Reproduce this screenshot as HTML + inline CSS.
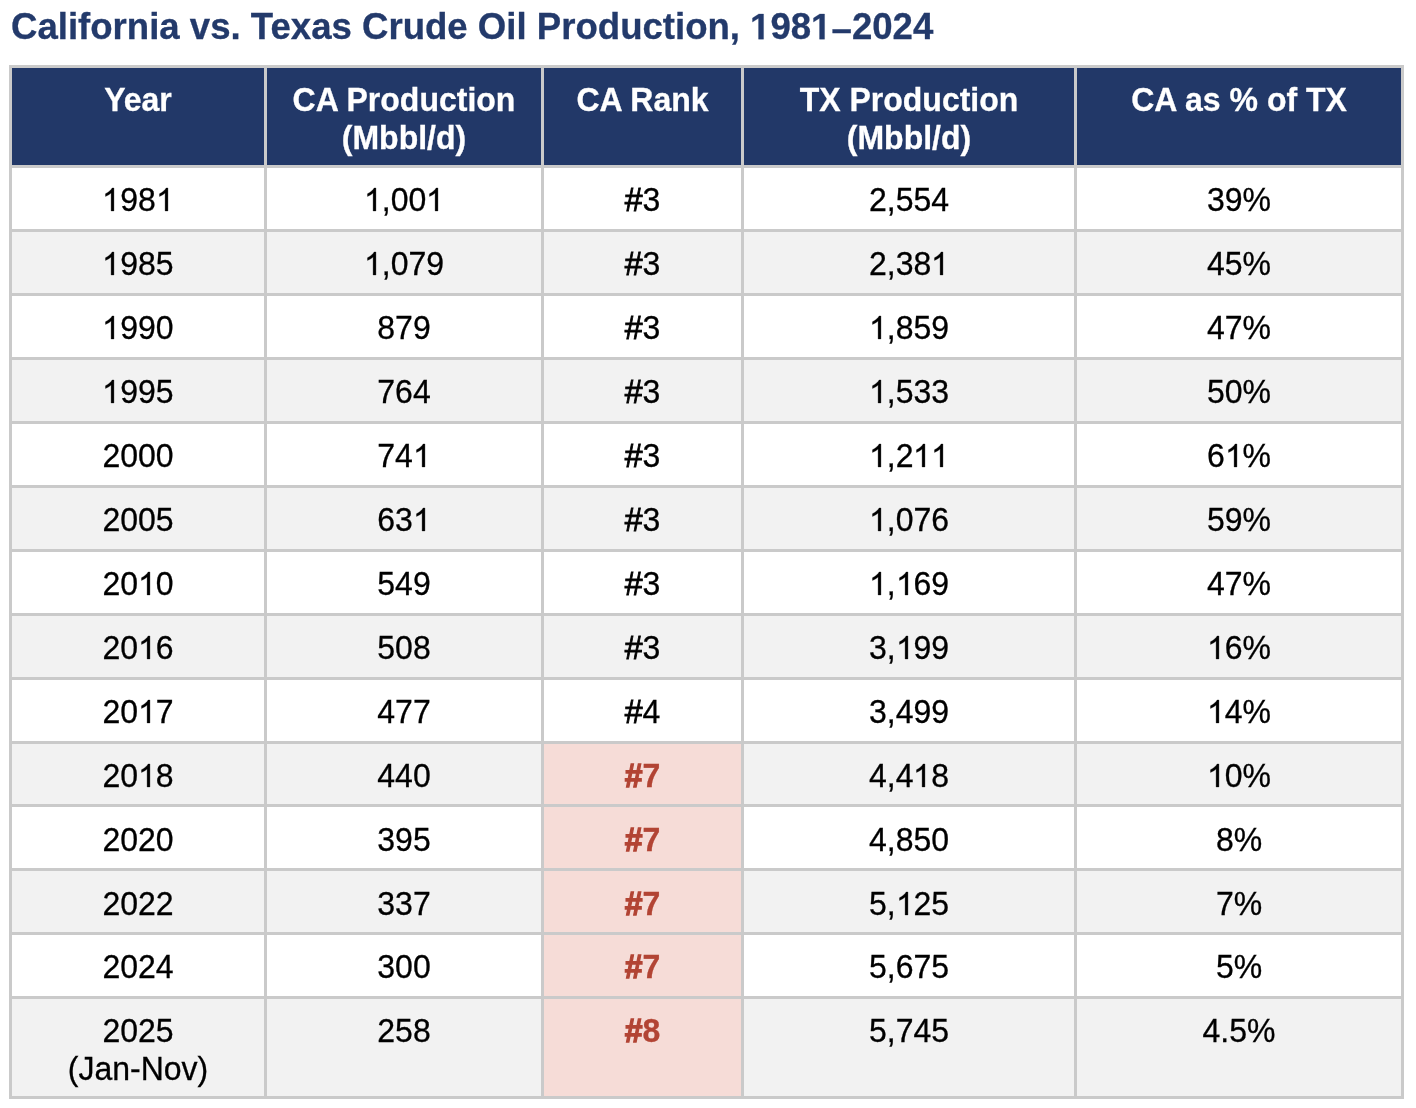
<!DOCTYPE html>
<html><head><meta charset="utf-8">
<style>
html,body{margin:0;padding:0;background:#fff;}
body{width:1416px;height:1108px;position:relative;overflow:hidden;font-family:"Liberation Sans",sans-serif;}
.title{position:absolute;left:10.5px;top:4.7px;font-size:36.6px;font-weight:bold;color:#233a6b;white-space:nowrap;line-height:43px;}
.grid{position:absolute;left:9px;top:65px;width:1395px;height:1034px;background:#cacaca;}
.th,.td{position:absolute;box-sizing:border-box;text-align:center;font-size:32px;line-height:35.5px;padding-top:14.6px;}
.th{background:#223868;color:#fff;font-weight:bold;}
.td{background:#fff;color:#000;}
.t{display:block;will-change:transform;-webkit-text-stroke:0.3px currentColor;transform:scaleY(1.045);transform-origin:50% 28.8px;}
.td.alt{background:#f2f2f2;}
.one{width:.5562em;height:.688em;vertical-align:baseline;fill:currentColor;stroke:currentColor;overflow:visible;}
.title .t{transform:none;}
.hs{-webkit-text-stroke:0.85px currentColor;}
.hl .hs{-webkit-text-stroke:1.2px currentColor;}
.td.hl{background:#f6dcd7;color:#b24434;font-weight:bold;}
</style></head><body>
<div class="title"><span class="t">California vs. Texas Crude Oil Production, <svg class="one" viewBox="0 0 1139 1409"><path transform="matrix(1 0 0 -1 0 1409)" d="M478 0V1170L140 959V1180L493 1409H759V0Z" stroke-width="17"/></svg>98<svg class="one" viewBox="0 0 1139 1409"><path transform="matrix(1 0 0 -1 0 1409)" d="M478 0V1170L140 959V1180L493 1409H759V0Z" stroke-width="17"/></svg><span style="position:relative;top:1.5px">–</span>2024</span></div>
<div class="grid"></div>

<div class="th" style="left:12px;top:68px;width:252px;height:97px"><span class="t">Year</span></div>
<div class="th" style="left:267px;top:68px;width:274px;height:97px"><span class="t">CA Production<br>(Mbbl/d)</span></div>
<div class="th" style="left:544px;top:68px;width:197px;height:97px"><span class="t">CA Rank</span></div>
<div class="th" style="left:744px;top:68px;width:330px;height:97px"><span class="t">TX Production<br>(Mbbl/d)</span></div>
<div class="th" style="left:1077px;top:68px;width:324px;height:97px"><span class="t">CA as % of TX</span></div>
<div class="td" style="left:12px;top:168px;width:252px;height:61px"><span class="t"><svg class="one" viewBox="0 0 1139 1409"><path transform="matrix(1 0 0 -1 0 1409)" d="M763 0H583V1098Q518 1038 412.5 979T223 890V1057Q374 1125 487 1221T647 1409H763Z" stroke-width="19"/></svg>98<svg class="one" viewBox="0 0 1139 1409"><path transform="matrix(1 0 0 -1 0 1409)" d="M763 0H583V1098Q518 1038 412.5 979T223 890V1057Q374 1125 487 1221T647 1409H763Z" stroke-width="19"/></svg></span></div>
<div class="td" style="left:267px;top:168px;width:274px;height:61px"><span class="t"><svg class="one" viewBox="0 0 1139 1409"><path transform="matrix(1 0 0 -1 0 1409)" d="M763 0H583V1098Q518 1038 412.5 979T223 890V1057Q374 1125 487 1221T647 1409H763Z" stroke-width="19"/></svg>,00<svg class="one" viewBox="0 0 1139 1409"><path transform="matrix(1 0 0 -1 0 1409)" d="M763 0H583V1098Q518 1038 412.5 979T223 890V1057Q374 1125 487 1221T647 1409H763Z" stroke-width="19"/></svg></span></div>
<div class="td" style="left:544px;top:168px;width:197px;height:61px"><span class="t"><span class="hs">#</span>3</span></div>
<div class="td" style="left:744px;top:168px;width:330px;height:61px"><span class="t">2,554</span></div>
<div class="td" style="left:1077px;top:168px;width:324px;height:61px"><span class="t">39%</span></div>
<div class="td alt" style="left:12px;top:232px;width:252px;height:61px"><span class="t"><svg class="one" viewBox="0 0 1139 1409"><path transform="matrix(1 0 0 -1 0 1409)" d="M763 0H583V1098Q518 1038 412.5 979T223 890V1057Q374 1125 487 1221T647 1409H763Z" stroke-width="19"/></svg>985</span></div>
<div class="td alt" style="left:267px;top:232px;width:274px;height:61px"><span class="t"><svg class="one" viewBox="0 0 1139 1409"><path transform="matrix(1 0 0 -1 0 1409)" d="M763 0H583V1098Q518 1038 412.5 979T223 890V1057Q374 1125 487 1221T647 1409H763Z" stroke-width="19"/></svg>,079</span></div>
<div class="td alt" style="left:544px;top:232px;width:197px;height:61px"><span class="t"><span class="hs">#</span>3</span></div>
<div class="td alt" style="left:744px;top:232px;width:330px;height:61px"><span class="t">2,38<svg class="one" viewBox="0 0 1139 1409"><path transform="matrix(1 0 0 -1 0 1409)" d="M763 0H583V1098Q518 1038 412.5 979T223 890V1057Q374 1125 487 1221T647 1409H763Z" stroke-width="19"/></svg></span></div>
<div class="td alt" style="left:1077px;top:232px;width:324px;height:61px"><span class="t">45%</span></div>
<div class="td" style="left:12px;top:296px;width:252px;height:61px"><span class="t"><svg class="one" viewBox="0 0 1139 1409"><path transform="matrix(1 0 0 -1 0 1409)" d="M763 0H583V1098Q518 1038 412.5 979T223 890V1057Q374 1125 487 1221T647 1409H763Z" stroke-width="19"/></svg>990</span></div>
<div class="td" style="left:267px;top:296px;width:274px;height:61px"><span class="t">879</span></div>
<div class="td" style="left:544px;top:296px;width:197px;height:61px"><span class="t"><span class="hs">#</span>3</span></div>
<div class="td" style="left:744px;top:296px;width:330px;height:61px"><span class="t"><svg class="one" viewBox="0 0 1139 1409"><path transform="matrix(1 0 0 -1 0 1409)" d="M763 0H583V1098Q518 1038 412.5 979T223 890V1057Q374 1125 487 1221T647 1409H763Z" stroke-width="19"/></svg>,859</span></div>
<div class="td" style="left:1077px;top:296px;width:324px;height:61px"><span class="t">47%</span></div>
<div class="td alt" style="left:12px;top:360px;width:252px;height:61px"><span class="t"><svg class="one" viewBox="0 0 1139 1409"><path transform="matrix(1 0 0 -1 0 1409)" d="M763 0H583V1098Q518 1038 412.5 979T223 890V1057Q374 1125 487 1221T647 1409H763Z" stroke-width="19"/></svg>995</span></div>
<div class="td alt" style="left:267px;top:360px;width:274px;height:61px"><span class="t">764</span></div>
<div class="td alt" style="left:544px;top:360px;width:197px;height:61px"><span class="t"><span class="hs">#</span>3</span></div>
<div class="td alt" style="left:744px;top:360px;width:330px;height:61px"><span class="t"><svg class="one" viewBox="0 0 1139 1409"><path transform="matrix(1 0 0 -1 0 1409)" d="M763 0H583V1098Q518 1038 412.5 979T223 890V1057Q374 1125 487 1221T647 1409H763Z" stroke-width="19"/></svg>,533</span></div>
<div class="td alt" style="left:1077px;top:360px;width:324px;height:61px"><span class="t">50%</span></div>
<div class="td" style="left:12px;top:424px;width:252px;height:61px"><span class="t">2000</span></div>
<div class="td" style="left:267px;top:424px;width:274px;height:61px"><span class="t">74<svg class="one" viewBox="0 0 1139 1409"><path transform="matrix(1 0 0 -1 0 1409)" d="M763 0H583V1098Q518 1038 412.5 979T223 890V1057Q374 1125 487 1221T647 1409H763Z" stroke-width="19"/></svg></span></div>
<div class="td" style="left:544px;top:424px;width:197px;height:61px"><span class="t"><span class="hs">#</span>3</span></div>
<div class="td" style="left:744px;top:424px;width:330px;height:61px"><span class="t"><svg class="one" viewBox="0 0 1139 1409"><path transform="matrix(1 0 0 -1 0 1409)" d="M763 0H583V1098Q518 1038 412.5 979T223 890V1057Q374 1125 487 1221T647 1409H763Z" stroke-width="19"/></svg>,2<svg class="one" viewBox="0 0 1139 1409"><path transform="matrix(1 0 0 -1 0 1409)" d="M763 0H583V1098Q518 1038 412.5 979T223 890V1057Q374 1125 487 1221T647 1409H763Z" stroke-width="19"/></svg><svg class="one" viewBox="0 0 1139 1409"><path transform="matrix(1 0 0 -1 0 1409)" d="M763 0H583V1098Q518 1038 412.5 979T223 890V1057Q374 1125 487 1221T647 1409H763Z" stroke-width="19"/></svg></span></div>
<div class="td" style="left:1077px;top:424px;width:324px;height:61px"><span class="t">6<svg class="one" viewBox="0 0 1139 1409"><path transform="matrix(1 0 0 -1 0 1409)" d="M763 0H583V1098Q518 1038 412.5 979T223 890V1057Q374 1125 487 1221T647 1409H763Z" stroke-width="19"/></svg>%</span></div>
<div class="td alt" style="left:12px;top:488px;width:252px;height:61px"><span class="t">2005</span></div>
<div class="td alt" style="left:267px;top:488px;width:274px;height:61px"><span class="t">63<svg class="one" viewBox="0 0 1139 1409"><path transform="matrix(1 0 0 -1 0 1409)" d="M763 0H583V1098Q518 1038 412.5 979T223 890V1057Q374 1125 487 1221T647 1409H763Z" stroke-width="19"/></svg></span></div>
<div class="td alt" style="left:544px;top:488px;width:197px;height:61px"><span class="t"><span class="hs">#</span>3</span></div>
<div class="td alt" style="left:744px;top:488px;width:330px;height:61px"><span class="t"><svg class="one" viewBox="0 0 1139 1409"><path transform="matrix(1 0 0 -1 0 1409)" d="M763 0H583V1098Q518 1038 412.5 979T223 890V1057Q374 1125 487 1221T647 1409H763Z" stroke-width="19"/></svg>,076</span></div>
<div class="td alt" style="left:1077px;top:488px;width:324px;height:61px"><span class="t">59%</span></div>
<div class="td" style="left:12px;top:552px;width:252px;height:61px"><span class="t">20<svg class="one" viewBox="0 0 1139 1409"><path transform="matrix(1 0 0 -1 0 1409)" d="M763 0H583V1098Q518 1038 412.5 979T223 890V1057Q374 1125 487 1221T647 1409H763Z" stroke-width="19"/></svg>0</span></div>
<div class="td" style="left:267px;top:552px;width:274px;height:61px"><span class="t">549</span></div>
<div class="td" style="left:544px;top:552px;width:197px;height:61px"><span class="t"><span class="hs">#</span>3</span></div>
<div class="td" style="left:744px;top:552px;width:330px;height:61px"><span class="t"><svg class="one" viewBox="0 0 1139 1409"><path transform="matrix(1 0 0 -1 0 1409)" d="M763 0H583V1098Q518 1038 412.5 979T223 890V1057Q374 1125 487 1221T647 1409H763Z" stroke-width="19"/></svg>,<svg class="one" viewBox="0 0 1139 1409"><path transform="matrix(1 0 0 -1 0 1409)" d="M763 0H583V1098Q518 1038 412.5 979T223 890V1057Q374 1125 487 1221T647 1409H763Z" stroke-width="19"/></svg>69</span></div>
<div class="td" style="left:1077px;top:552px;width:324px;height:61px"><span class="t">47%</span></div>
<div class="td alt" style="left:12px;top:616px;width:252px;height:61px"><span class="t">20<svg class="one" viewBox="0 0 1139 1409"><path transform="matrix(1 0 0 -1 0 1409)" d="M763 0H583V1098Q518 1038 412.5 979T223 890V1057Q374 1125 487 1221T647 1409H763Z" stroke-width="19"/></svg>6</span></div>
<div class="td alt" style="left:267px;top:616px;width:274px;height:61px"><span class="t">508</span></div>
<div class="td alt" style="left:544px;top:616px;width:197px;height:61px"><span class="t"><span class="hs">#</span>3</span></div>
<div class="td alt" style="left:744px;top:616px;width:330px;height:61px"><span class="t">3,<svg class="one" viewBox="0 0 1139 1409"><path transform="matrix(1 0 0 -1 0 1409)" d="M763 0H583V1098Q518 1038 412.5 979T223 890V1057Q374 1125 487 1221T647 1409H763Z" stroke-width="19"/></svg>99</span></div>
<div class="td alt" style="left:1077px;top:616px;width:324px;height:61px"><span class="t"><svg class="one" viewBox="0 0 1139 1409"><path transform="matrix(1 0 0 -1 0 1409)" d="M763 0H583V1098Q518 1038 412.5 979T223 890V1057Q374 1125 487 1221T647 1409H763Z" stroke-width="19"/></svg>6%</span></div>
<div class="td" style="left:12px;top:680px;width:252px;height:61px"><span class="t">20<svg class="one" viewBox="0 0 1139 1409"><path transform="matrix(1 0 0 -1 0 1409)" d="M763 0H583V1098Q518 1038 412.5 979T223 890V1057Q374 1125 487 1221T647 1409H763Z" stroke-width="19"/></svg>7</span></div>
<div class="td" style="left:267px;top:680px;width:274px;height:61px"><span class="t">477</span></div>
<div class="td" style="left:544px;top:680px;width:197px;height:61px"><span class="t"><span class="hs">#</span>4</span></div>
<div class="td" style="left:744px;top:680px;width:330px;height:61px"><span class="t">3,499</span></div>
<div class="td" style="left:1077px;top:680px;width:324px;height:61px"><span class="t"><svg class="one" viewBox="0 0 1139 1409"><path transform="matrix(1 0 0 -1 0 1409)" d="M763 0H583V1098Q518 1038 412.5 979T223 890V1057Q374 1125 487 1221T647 1409H763Z" stroke-width="19"/></svg>4%</span></div>
<div class="td alt" style="left:12px;top:744px;width:252px;height:60px"><span class="t">20<svg class="one" viewBox="0 0 1139 1409"><path transform="matrix(1 0 0 -1 0 1409)" d="M763 0H583V1098Q518 1038 412.5 979T223 890V1057Q374 1125 487 1221T647 1409H763Z" stroke-width="19"/></svg>8</span></div>
<div class="td alt" style="left:267px;top:744px;width:274px;height:60px"><span class="t">440</span></div>
<div class="td alt hl" style="left:544px;top:744px;width:197px;height:60px"><span class="t"><span class="hs">#</span>7</span></div>
<div class="td alt" style="left:744px;top:744px;width:330px;height:60px"><span class="t">4,4<svg class="one" viewBox="0 0 1139 1409"><path transform="matrix(1 0 0 -1 0 1409)" d="M763 0H583V1098Q518 1038 412.5 979T223 890V1057Q374 1125 487 1221T647 1409H763Z" stroke-width="19"/></svg>8</span></div>
<div class="td alt" style="left:1077px;top:744px;width:324px;height:60px"><span class="t"><svg class="one" viewBox="0 0 1139 1409"><path transform="matrix(1 0 0 -1 0 1409)" d="M763 0H583V1098Q518 1038 412.5 979T223 890V1057Q374 1125 487 1221T647 1409H763Z" stroke-width="19"/></svg>0%</span></div>
<div class="td" style="left:12px;top:807px;width:252px;height:61px;padding-top:15.6px"><span class="t">2020</span></div>
<div class="td" style="left:267px;top:807px;width:274px;height:61px;padding-top:15.6px"><span class="t">395</span></div>
<div class="td hl" style="left:544px;top:807px;width:197px;height:61px;padding-top:15.6px"><span class="t"><span class="hs">#</span>7</span></div>
<div class="td" style="left:744px;top:807px;width:330px;height:61px;padding-top:15.6px"><span class="t">4,850</span></div>
<div class="td" style="left:1077px;top:807px;width:324px;height:61px;padding-top:15.6px"><span class="t">8%</span></div>
<div class="td alt" style="left:12px;top:871px;width:252px;height:61px;padding-top:15.6px"><span class="t">2022</span></div>
<div class="td alt" style="left:267px;top:871px;width:274px;height:61px;padding-top:15.6px"><span class="t">337</span></div>
<div class="td alt hl" style="left:544px;top:871px;width:197px;height:61px;padding-top:15.6px"><span class="t"><span class="hs">#</span>7</span></div>
<div class="td alt" style="left:744px;top:871px;width:330px;height:61px;padding-top:15.6px"><span class="t">5,<svg class="one" viewBox="0 0 1139 1409"><path transform="matrix(1 0 0 -1 0 1409)" d="M763 0H583V1098Q518 1038 412.5 979T223 890V1057Q374 1125 487 1221T647 1409H763Z" stroke-width="19"/></svg>25</span></div>
<div class="td alt" style="left:1077px;top:871px;width:324px;height:61px;padding-top:15.6px"><span class="t">7%</span></div>
<div class="td" style="left:12px;top:935px;width:252px;height:61px"><span class="t">2024</span></div>
<div class="td" style="left:267px;top:935px;width:274px;height:61px"><span class="t">300</span></div>
<div class="td hl" style="left:544px;top:935px;width:197px;height:61px"><span class="t"><span class="hs">#</span>7</span></div>
<div class="td" style="left:744px;top:935px;width:330px;height:61px"><span class="t">5,675</span></div>
<div class="td" style="left:1077px;top:935px;width:324px;height:61px"><span class="t">5%</span></div>
<div class="td alt" style="left:12px;top:999px;width:252px;height:97px"><span class="t">2025<br>(Jan-Nov)</span></div>
<div class="td alt" style="left:267px;top:999px;width:274px;height:97px"><span class="t">258</span></div>
<div class="td alt hl" style="left:544px;top:999px;width:197px;height:97px"><span class="t"><span class="hs">#</span>8</span></div>
<div class="td alt" style="left:744px;top:999px;width:330px;height:97px"><span class="t">5,745</span></div>
<div class="td alt" style="left:1077px;top:999px;width:324px;height:97px"><span class="t">4.5%</span></div>
</body></html>
